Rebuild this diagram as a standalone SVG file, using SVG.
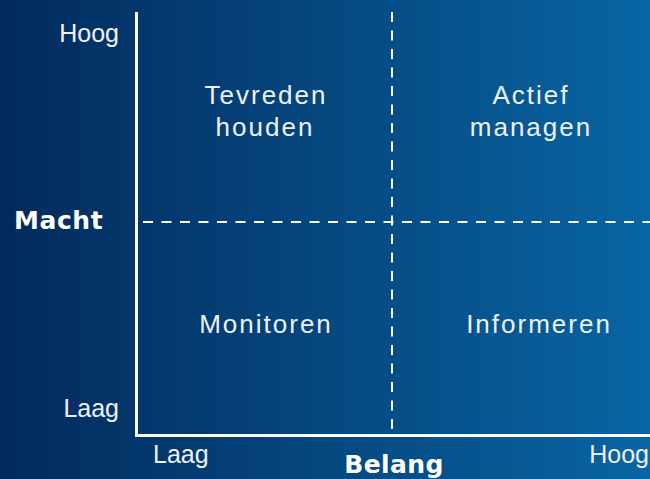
<svg xmlns="http://www.w3.org/2000/svg" width="650" height="479" viewBox="0 0 650 479">
<defs>
<linearGradient id="bg" x1="0" y1="0" x2="1" y2="0">
<stop offset="0" stop-color="#022a5c"/>
<stop offset="1" stop-color="#0865a3"/>
</linearGradient>
<style>
.ax{stroke:#fff;stroke-width:3;fill:none}
.dash{stroke:#fff;stroke-width:2;stroke-dasharray:10 8.5;fill:none}
.lbl{font-family:"Liberation Sans",Arial,sans-serif;font-size:26px;letter-spacing:2px;fill:#eef2f8;text-anchor:middle}
.tick{font-family:"Liberation Sans",Arial,sans-serif;font-size:25px;fill:#eef2f8}
.ttl{font-family:"DejaVu Sans",Verdana,sans-serif;font-size:25px;font-weight:bold;fill:#fff}
</style>
</defs>
<rect width="650" height="479" fill="url(#bg)"/>
<g id="connectors">
<path class="ax" d="M136.5 12 V435.5 H650"/>
<path class="dash" d="M392 12 V435"/>
<path class="dash" d="M143 222 H650"/>
</g>
<g id="axis-labels">
<text class="tick" x="119" y="42" text-anchor="end">Hoog</text>
<text class="tick" x="119" y="417" text-anchor="end">Laag</text>
<text class="ttl" x="14" y="229" font-size="25.5" letter-spacing="0.6">Macht</text>
<text class="tick" x="153" y="463">Laag</text>
<text class="tick" x="649" y="463" text-anchor="end">Hoog</text>
<text class="ttl" x="394" y="473" text-anchor="middle" letter-spacing="0.4">Belang</text>
</g>
<g id="q-tevreden"><text class="lbl" x="266" y="104">Tevreden</text><text class="lbl" x="265" y="136">houden</text></g>
<g id="q-actief"><text class="lbl" x="531" y="104">Actief</text><text class="lbl" x="531" y="136">managen</text></g>
<g id="q-monitoren"><text class="lbl" x="266" y="333">Monitoren</text></g>
<g id="q-informeren"><text class="lbl" x="539" y="333" letter-spacing="2.5">Informeren</text></g>
</svg>
